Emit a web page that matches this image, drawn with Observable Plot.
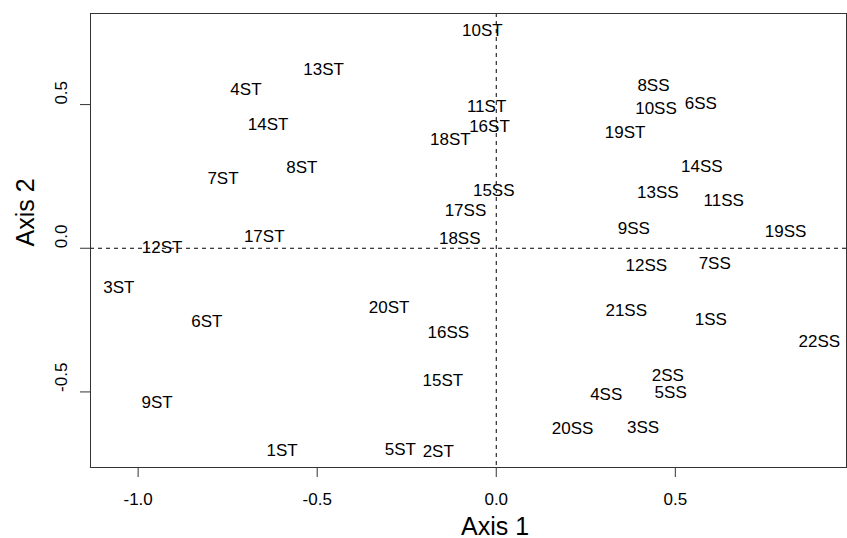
<!DOCTYPE html>
<html>
<head>
<meta charset="utf-8">
<script src="https://cdn.jsdelivr.net/npm/d3@7"></script>
<script src="https://cdn.jsdelivr.net/npm/@observablehq/plot@0.6"></script>
<style>
  html, body { margin: 0; padding: 0; background: #fff; }
  #chart svg { display: block; }
</style>
</head>
<body>
<div id="chart"></div>
<script>
// Site labels and their coordinates on the two ordination axes
const labels = [
  "10ST","13ST","11ST","16ST","18ST","8ST","15SS","17SS","18SS",
  "4ST","14ST","7ST","17ST","12ST",
  "8SS","10SS","6SS","19ST","14SS","13SS","11SS","9SS","19SS",
  "12SS","7SS","21SS","1SS","22SS","2SS","5SS","4SS","3SS","20SS",
  "20ST","16SS","15ST","5ST","2ST",
  "3ST","6ST","9ST","1ST"
];
const axis1 = [
  -0.039,-0.482,-0.027,-0.019,-0.128,-0.543,-0.007,-0.086,-0.102,
  -0.699,-0.637,-0.763,-0.648,-0.933,
  0.439,0.446,0.571,0.360,0.574,0.451,0.635,0.384,0.808,
  0.419,0.610,0.363,0.599,0.902,0.479,0.487,0.307,0.410,0.213,
  -0.299,-0.134,-0.149,-0.268,-0.162,
  -1.054,-0.808,-0.947,-0.598
];
const axis2 = [
  0.758,0.622,0.493,0.424,0.378,0.282,0.201,0.131,0.035,
  0.552,0.431,0.244,0.042,0.003,
  0.566,0.485,0.505,0.404,0.284,0.195,0.166,0.068,0.059,
  -0.060,-0.053,-0.217,-0.249,-0.324,-0.442,-0.501,-0.509,-0.625,-0.628,
  -0.205,-0.295,-0.460,-0.701,-0.708,
  -0.136,-0.255,-0.536,-0.704
];
const xTicks = [-1.0, -0.5, 0.0, 0.5];
const yTicks = [-0.5, 0.0, 0.5];
const xTitle = "Axis 1";
const yTitle = "Axis 2";

const points = labels.map((l, i) => ({label: l, a1: axis1[i], a2: axis2[i]}));
const font = "'Liberation Sans', Arial, Helvetica, sans-serif";
const fmt = d => d.toFixed(1);

const chart = Plot.plot({
  width: 847,
  height: 538,
  marginLeft: 90,
  marginRight: 1,
  marginTop: 13,
  marginBottom: 71,
  style: {fontFamily: font, background: "#fff", color: "#000"},
  x: {domain: [-1.133, 0.978], axis: null},
  y: {domain: [-0.763, 0.817], axis: null},
  marks: [
    Plot.ruleX([0], {stroke: "#000", strokeWidth: 1, strokeDasharray: "4,4"}),
    Plot.ruleY([0], {stroke: "#000", strokeWidth: 1, strokeDasharray: "4,4"}),
    Plot.frame({stroke: "#333", strokeWidth: 1}),
    Plot.axisX(xTicks, {anchor: "bottom", tickSize: 10, tickFormat: () => "", stroke: "#333", label: null}),
    Plot.axisY(yTicks, {anchor: "left", tickSize: 10, tickFormat: () => "", stroke: "#333", label: null}),
    Plot.text(xTicks, {x: d => d, text: fmt, frameAnchor: "bottom", lineAnchor: "bottom", dy: 37, fontSize: 17, fill: "#000"}),
    Plot.text(yTicks, {y: d => d, text: fmt, frameAnchor: "left", rotate: -90, lineAnchor: "bottom", dx: -24, fontSize: 17, fill: "#000"}),
    Plot.text([xTitle], {text: d => d, frameAnchor: "bottom", lineAnchor: "bottom", dx: 26.5, dy: 67, fontSize: 25, fill: "#000"}),
    Plot.text([yTitle], {text: d => d, frameAnchor: "left", rotate: -90, lineAnchor: "bottom", dx: -57, dy: 6, fontSize: 25, fill: "#000"}),
    Plot.text(points, {x: "a1", y: "a2", text: "label", fontSize: 17, fill: "#000"})
  ]
});
document.getElementById("chart").append(chart);
</script>
</body>
</html>
